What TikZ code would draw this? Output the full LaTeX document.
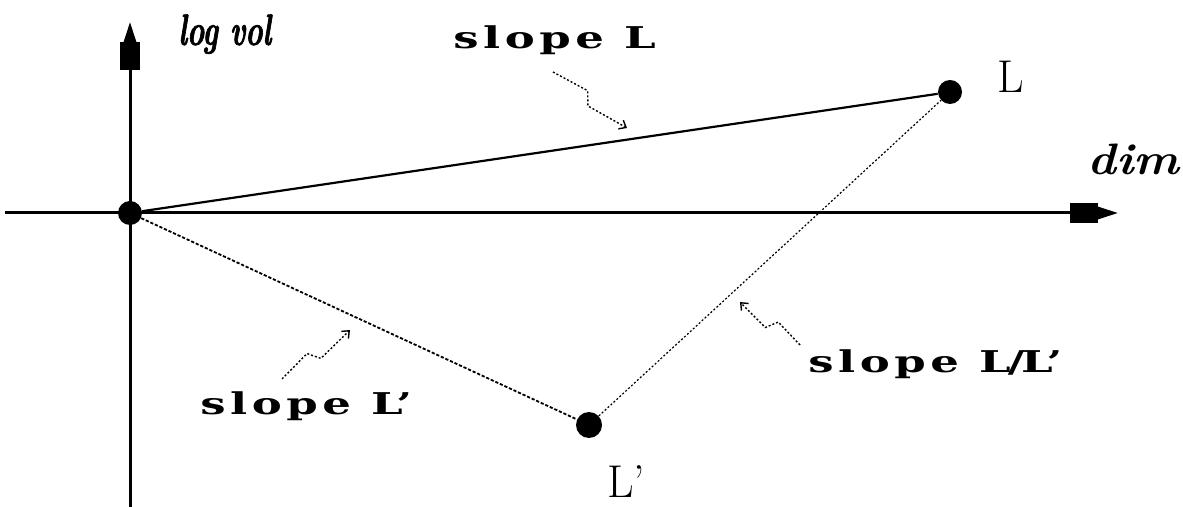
\documentclass[tikz,border=0pt]{standalone}
\usepackage{fontspec}
\newfontfamily\slopefont{DejaVu Serif}[FakeStretch=1.5,LetterSpace=15]
\newfontfamily\volfont{lmroman10-bolditalic}[Extension=.otf,FakeStretch=0.66,FakeBold=1.5]
\usetikzlibrary{positioning, arrows.meta, calc}

\begin{document}
\begin{tikzpicture}[
    x=0.5pt, y=-0.5pt,
    axis/.style={
        line width=1.5pt,
        -{Rectangle[length=14pt,width=10pt,sep=0pt]Triangle[length=10pt,width=6pt,sep=0pt]},
    },
    dot/.style={circle, fill, inner sep=0pt, minimum size=12pt},
    axlab/.style={
        anchor=base west, inner sep=0pt,
        font=\fontsize{22}{22}\selectfont\bfseries\itshape,
    },
    ptlab/.style={anchor=base west, inner sep=0pt, font=\fontsize{23}{23}\selectfont},
    slopelab/.style={
        anchor=base west, inner sep=0pt,
        font=\slopefont\fontsize{15}{15}\selectfont\bfseries,
    },
    side/.style={line width=1.1pt},
    rung/.style={line width=0.9pt, dash pattern=on 1.6pt off 0.9pt},
    faint/.style={line width=0.6pt, dash pattern=on 1pt off 1pt},
    bolt/.style={
        line width=0.7pt, dash pattern=on 1pt off 1pt,
        -{Straight Barb[length=3pt,width=5pt]},
    },
]

\useasboundingbox (0,0) rectangle (1183,507);

% axes
\coordinate (ybot) at (130,507);
\coordinate (ytop) at (130,22);
\coordinate (xleft) at (5,213);
\coordinate (xright) at (1118,213);
\draw[axis] (ybot) -- (ytop);
\draw[axis] (xleft) -- (xright);

\node[axlab, font=\volfont\fontsize{22}{22}\selectfont] (vol) at (178,45) {log vol};
\node[axlab] (dim) at (1087,175) {\scalebox{1.1}[1]{dim}};

% lattice points
\node[dot] (O) at (130,213) {};
\node[dot] (L) at (950,92) {};
\node[dot, minimum size=13pt] (Lp) at (589,425) {};

\draw[side] (O) -- (L);
\draw[rung] (O) -- (Lp);
\draw[faint] (Lp) -- (L);

\node[ptlab] (Llab) at (997,93) {L};
\node[ptlab] (Lplab) at (607,497) {L’};

% slope labels
\node[slopelab] (sL) at (453,49) {slope L};
\node[slopelab] (sLp) at (200,415) {slope L’};
\node[slopelab] (sLL) at (808,373) {slope L\kern-1.5pt/\kern-1.5pt L’};

\coordinate (b1s) at (553,72);
\coordinate (b1e) at (627,128);
\coordinate (b2s) at (282,379);
\coordinate (b2e) at (350,330);
\coordinate (b3s) at (800,345);
\coordinate (b3e) at (740,302);
\draw[bolt] (b1s) -- ($(b1s)!0.42!(b1e)!3pt!90:(b1e)$)
    -- ($(b1s)!0.52!(b1e)!3pt!-90:(b1e)$) -- (b1e);
\draw[bolt] (b2s) -- ($(b2s)!0.42!(b2e)!3pt!90:(b2e)$)
    -- ($(b2s)!0.52!(b2e)!3pt!-90:(b2e)$) -- (b2e);
\draw[bolt] (b3s) -- ($(b3s)!0.42!(b3e)!3pt!-90:(b3e)$)
    -- ($(b3s)!0.52!(b3e)!3pt!90:(b3e)$) -- (b3e);

\end{tikzpicture}
\end{document}
